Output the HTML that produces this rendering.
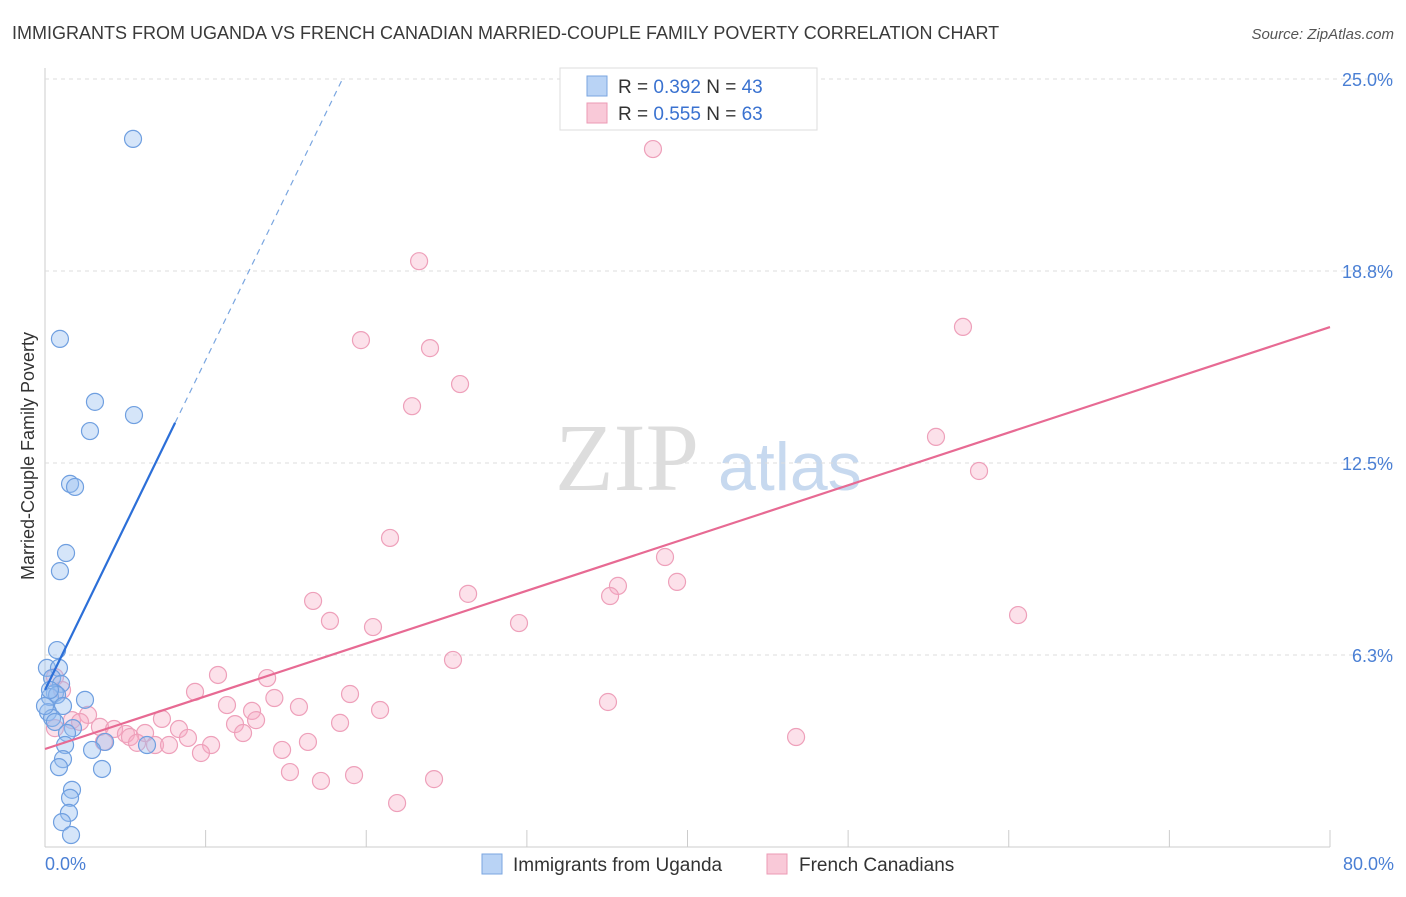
<!DOCTYPE html>
<html><head><meta charset="utf-8"><style>
body{margin:0;background:#fff;font-family:"Liberation Sans",sans-serif}
</style></head><body>
<svg id="c" width="1406" height="892" xmlns="http://www.w3.org/2000/svg">
<text x="12" y="39" font-size="18" fill="#3a3a3a">IMMIGRANTS FROM UGANDA VS FRENCH CANADIAN MARRIED-COUPLE FAMILY POVERTY CORRELATION CHART</text>
<text x="1394" y="39" font-size="15" fill="#555" text-anchor="end" font-style="italic">Source: ZipAtlas.com</text>
<text x="555" y="490" font-size="96" fill="#ddd" font-family="Liberation Serif,serif">ZIP</text>
<text x="718" y="490" font-size="68" fill="#c7d9ef">atlas</text>
<g id="grid"></g><g id="pts"></g><g id="lines"></g>
<text transform="translate(34,456) rotate(-90)" font-size="18" fill="#333" text-anchor="middle">Married-Couple Family Poverty</text>
<text x="45" y="870" font-size="18" fill="#4a7fd4">0.0%</text>
<text x="1394" y="870" font-size="18" fill="#4a7fd4" text-anchor="end">80.0%</text>
<g>
<rect x="560" y="68" width="257" height="62" fill="#fff" stroke="#ddd"/>
<rect x="587" y="76" width="20" height="20" fill="#b9d3f5" stroke="#7aa6e0"/>
<rect x="587" y="103" width="20" height="20" fill="#f9c9d8" stroke="#ec9ab5"/>
<text x="618" y="93" font-size="19" fill="#333">R = <tspan fill="#3a72d0">0.392</tspan>   N = <tspan fill="#3a72d0">43</tspan></text>
<text x="618" y="120" font-size="19" fill="#333">R = <tspan fill="#3a72d0">0.555</tspan>   N = <tspan fill="#3a72d0">63</tspan></text>
</g>
<g>
<rect x="482" y="854" width="20" height="20" fill="#b9d3f5" stroke="#7aa6e0"/>
<text x="513" y="871" font-size="19" fill="#333">Immigrants from Uganda</text>
<rect x="767" y="854" width="20" height="20" fill="#f9c9d8" stroke="#ec9ab5"/>
<text x="799" y="871" font-size="19" fill="#333">French Canadians</text>
</g>
</svg>
<script>
const yTicks=[6.25,12.5,18.75,25];
const yTickLabels=["6.3%","12.5%","18.8%","25.0%"];
const xTicks=[0,10,20,30,40,50,60,70,80];
const ugandaX=[5.48,0.93,3.11,5.54,2.80,1.56,1.87,1.31,0.93,0.75,0.12,0.87,0.44,1.00,0.62,0.31,0.75,2.49,1.12,0.19,0.44,0.62,1.74,1.37,3.74,1.25,2.93,6.35,1.12,0.87,3.55,1.68,1.56,1.49,1.06,1.62,0,0.31];
const ugandaY=[23.05,16.54,14.49,14.06,13.54,11.82,11.72,9.57,8.98,6.41,5.83,5.83,5.50,5.31,5.01,4.88,4.95,4.79,4.59,4.39,4.20,4.07,3.87,3.71,3.42,3.32,3.16,3.32,2.86,2.60,2.54,1.86,1.60,1.11,0.81,0.39,4.59,5.11];
const frX=[37.85,23.29,19.67,23.97,25.84,22.85,57.15,55.47,58.15,21.48,38.60,35.67,39.35,35.18,26.34,16.69,17.74,20.42,29.51,60.58,25.40,10.77,13.83,9.34,14.28,18.99,35.05,11.33,15.81,20.86,12.89,13.14,7.28,11.83,18.37,2.68,1.68,3.42,4.30,5.04,6.23,8.34,12.33,8.90,5.29,5.73,6.85,7.72,10.34,16.37,9.71,14.76,46.76,15.25,19.24,17.18,24.22,21.92,0.62,1.06,2.18,3.67,0.62];
const frY=[22.72,19.07,16.50,16.24,15.07,14.35,16.93,13.35,12.24,10.06,9.44,8.50,8.63,8.17,8.24,8.01,7.36,7.16,7.29,7.55,6.09,5.60,5.50,5.05,4.85,4.98,4.72,4.62,4.56,4.46,4.43,4.13,4.17,4.00,4.04,4.30,4.13,3.91,3.84,3.68,3.71,3.84,3.71,3.55,3.58,3.39,3.32,3.32,3.32,3.42,3.06,3.16,3.58,2.44,2.34,2.15,2.21,1.43,5.53,5.11,4.07,3.42,3.87];
const ugandaFit=[5.11,1.074];
const frFit=[3.19,0.1717];
const NS="http://www.w3.org/2000/svg";
const sx=v=>45+v*1285/80, sy=v=>847-v*768/25;
function mk(t,a,p){const e=document.createElementNS(NS,t);for(const k in a)e.setAttribute(k,a[k]);p.appendChild(e);return e;}
const g=document.getElementById('grid');
mk('line',{x1:45,y1:68,x2:45,y2:847,stroke:'#ccc'},g);
mk('line',{x1:45,y1:847,x2:1330,y2:847,stroke:'#ccc'},g);
yTicks.forEach((t,i)=>{
const l=mk('line',{x1:45,y1:sy(t),x2:1394,y2:sy(t),stroke:'#ddd','stroke-dasharray':'4,4'},g);


const tx=mk('text',{x:1393,y:sy(t)+7,'font-size':18,fill:'#4a7fd4','text-anchor':'end'},g);
tx.textContent=yTickLabels[i];


});
xTicks.forEach(t=>{
const l=mk('line',{x1:sx(t),y1:830,x2:sx(t),y2:847,stroke:'#ccc'},g);


});
const p=document.getElementById('pts');
frX.forEach((x,i)=>{
const c=mk('circle',{cx:sx(x),cy:sy(frY[i]),r:8.5,fill:'rgba(246,170,195,0.35)',stroke:'#eea0ba','stroke-width':1.2},p);


});
ugandaX.forEach((x,i)=>{
const c=mk('circle',{cx:sx(x),cy:sy(ugandaY[i]),r:8.5,fill:'rgba(150,190,240,0.4)',stroke:'#6f9fe0','stroke-width':1.2},p);


});
const L=document.getElementById('lines');
const fy=(f,x)=>f[0]+f[1]*x;
let a=mk('line',{x1:sx(0),y1:sy(fy(ugandaFit,0)),x2:sx(8.1),y2:sy(fy(ugandaFit,8.1)),stroke:'#2c6fd8','stroke-width':2.2},L);


const xe=(25-ugandaFit[0])/ugandaFit[1];
a=mk('line',{x1:sx(8.1),y1:sy(fy(ugandaFit,8.1)),x2:sx(xe),y2:sy(25),stroke:'#7aa6e0','stroke-width':1.2,'stroke-dasharray':'6,5'},L);


a=mk('line',{x1:sx(0),y1:sy(fy(frFit,0)),x2:sx(80),y2:sy(fy(frFit,80)),stroke:'#e76a93','stroke-width':2.2},L);


</script>
</body></html>
